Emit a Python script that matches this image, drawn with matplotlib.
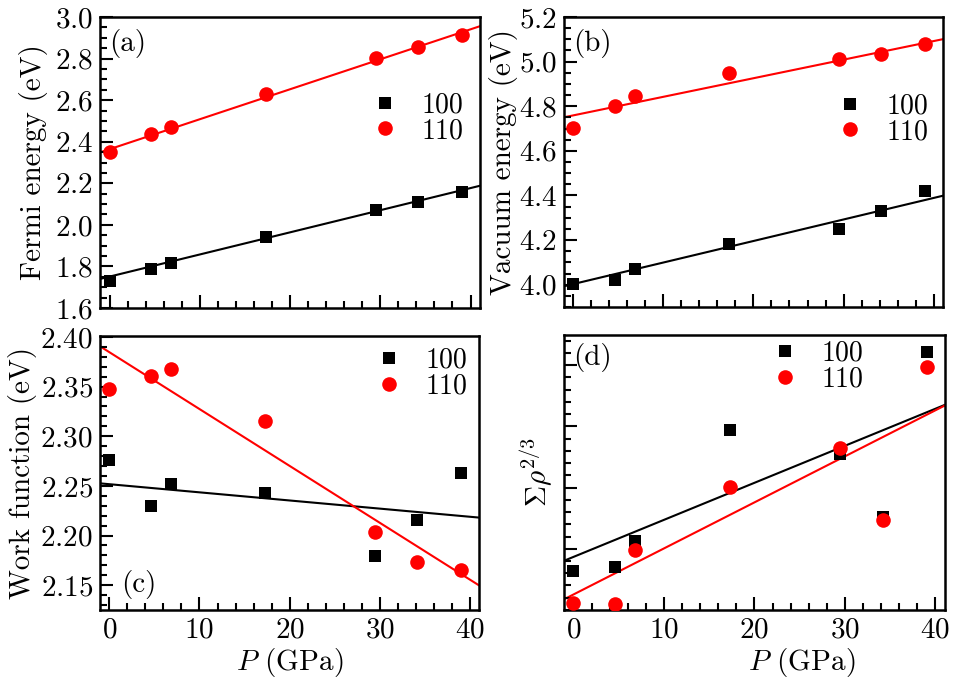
import matplotlib
matplotlib.use('Agg')
import matplotlib.pyplot as plt
from matplotlib.ticker import MultipleLocator, NullFormatter

plt.rcParams.update({
    'font.family': 'serif',
    'font.serif': ['cmr10'],
    'mathtext.fontset': 'cm',
    'axes.formatter.use_mathtext': True,
    'font.size': 21,
    'axes.linewidth': 1.8,
})

# ---------------- data ----------------
P = [0.0, 4.6, 6.8, 17.3, 29.5, 34.2, 39.1]

fermi_100 = [1.728, 1.789, 1.817, 1.942, 2.073, 2.112, 2.157]
fermi_110 = [2.352, 2.436, 2.471, 2.631, 2.803, 2.857, 2.913]

vacuum_100 = [4.005, 4.022, 4.070, 4.183, 4.250, 4.328, 4.418]
vacuum_110 = [4.702, 4.802, 4.845, 4.950, 5.012, 5.036, 5.080]

work_100 = [2.276, 2.230, 2.252, 2.243, 2.179, 2.216, 2.263]
work_110 = [2.348, 2.361, 2.368, 2.315, 2.204, 2.173, 2.165]

rho_100 = [0.63, 0.71, 1.13, 2.94, 2.54, 1.52, 4.21]
rho_110 = [0.12, 0.10, 0.98, 2.01, 2.64, 1.47, 3.97]

# linear fits: (intercept, slope)
fit_fermi_100 = (1.751, 0.01065)
fit_fermi_110 = (2.364, 0.01442)
fit_vacuum_100 = (4.003, 0.00964)
fit_vacuum_110 = (4.759, 0.00832)
fit_work_100 = (2.2517, -0.000819)
fit_work_110 = (2.3846, -0.00572)
fit_rho_100 = (0.867, 0.0605)
fit_rho_110 = (0.2535, 0.0752)

series_labels = ['100', '110']
panel_tags = ['(a)', '(b)', '(c)', '(d)']

# ---------------- figure ----------------
fig = plt.figure(figsize=(9.59, 6.84), dpi=100)

positions = [
    [0.1043, 0.5497, 0.3962, 0.4254],
    [0.5881, 0.5512, 0.3952, 0.4240],
    [0.1043, 0.1082, 0.3952, 0.4006],
    [0.5881, 0.1082, 0.3973, 0.4020],
]

panels = [
    dict(y100=fermi_100, y110=fermi_110, f100=fit_fermi_100, f110=fit_fermi_110,
         ylim=(1.6, 3.0), major=0.2, minor=0.05, ylabel='Fermi energy (eV)',
         ylabx=-0.137, xlabels=False, tag=(0.025, 0.96, 'top'),
         leg=(0.714, 0.653)),
    dict(y100=vacuum_100, y110=vacuum_110, f100=fit_vacuum_100, f110=fit_vacuum_110,
         ylim=(3.9, 5.2), major=0.2, minor=0.05, ylabel='Vacuum energy (eV)',
         ylabx=-0.121, xlabels=False, tag=(0.025, 0.96, 'top'),
         leg=(0.719, 0.648)),
    dict(y100=work_100, y110=work_110, f100=fit_work_100, f110=fit_work_110,
         ylim=(2.125, 2.401), major=0.05, minor=0.01, ylabel='Work function (eV)',
         ylabx=-0.166, xlabels=True, tag=(0.055, 0.04, 'bottom'),
         leg=(0.727, 0.863), xlabx=0.5),
    dict(y100=rho_100, y110=rho_110, f100=fit_rho_100, f110=fit_rho_110,
         ylim=(0.0, 4.49), major=1.0, minor=0.2, ylabel=r'$\mathit{\Sigma}\rho^{2/3}$',
         ylabx=-0.024, xlabels=True, tag=(0.025, 0.97, 'top'),
         leg=(0.544, 0.885), xlabx=0.624, noylabels=True),
]

for pos, pdef, tag in zip(positions, panels, panel_tags):
    ax = fig.add_axes(pos)
    ax.axline((0, pdef['f100'][0]), slope=pdef['f100'][1], color='black', lw=1.5, zorder=1)
    ax.axline((0, pdef['f110'][0]), slope=pdef['f110'][1], color='red', lw=1.5, zorder=1)
    ax.plot(P, pdef['y100'], 's', color='black', ms=9, mew=0, label=series_labels[0], zorder=3)
    ax.plot(P, pdef['y110'], 'o', color='red', ms=10.5, mew=0, label=series_labels[1], zorder=4)

    ax.set_xlim(-1.05, 41.05)
    ax.set_ylim(*pdef['ylim'])
    ax.xaxis.set_major_locator(MultipleLocator(10))
    ax.xaxis.set_minor_locator(MultipleLocator(2))
    ax.yaxis.set_major_locator(MultipleLocator(pdef['major']))
    ax.yaxis.set_minor_locator(MultipleLocator(pdef['minor']))
    ax.tick_params(which='both', direction='in', top=False, right=False, width=1.5)
    ax.tick_params(which='major', length=9.5, pad=5)
    ax.tick_params(which='minor', length=5)
    if not pdef['xlabels']:
        ax.tick_params(labelbottom=False)
    else:
        ax.set_xlabel(r'$P$ (GPa)')
        ax.xaxis.set_label_coords(pdef['xlabx'], -0.13)
    if pdef.get('noylabels'):
        ax.yaxis.set_major_formatter(NullFormatter())
    ax.set_ylabel(pdef['ylabel'])
    ax.yaxis.set_label_coords(pdef['ylabx'], 0.5)

    tx, ty, va = pdef['tag']
    ax.text(tx, ty, tag, transform=ax.transAxes, va=va, ha='left')

    ax.legend(loc='center left', bbox_to_anchor=pdef['leg'], frameon=False,
              fontsize=20, handlelength=1.0, handletextpad=0.8, labelspacing=-0.02,
              borderpad=0, borderaxespad=0, numpoints=1)

fig.savefig('out.png', dpi=100)
